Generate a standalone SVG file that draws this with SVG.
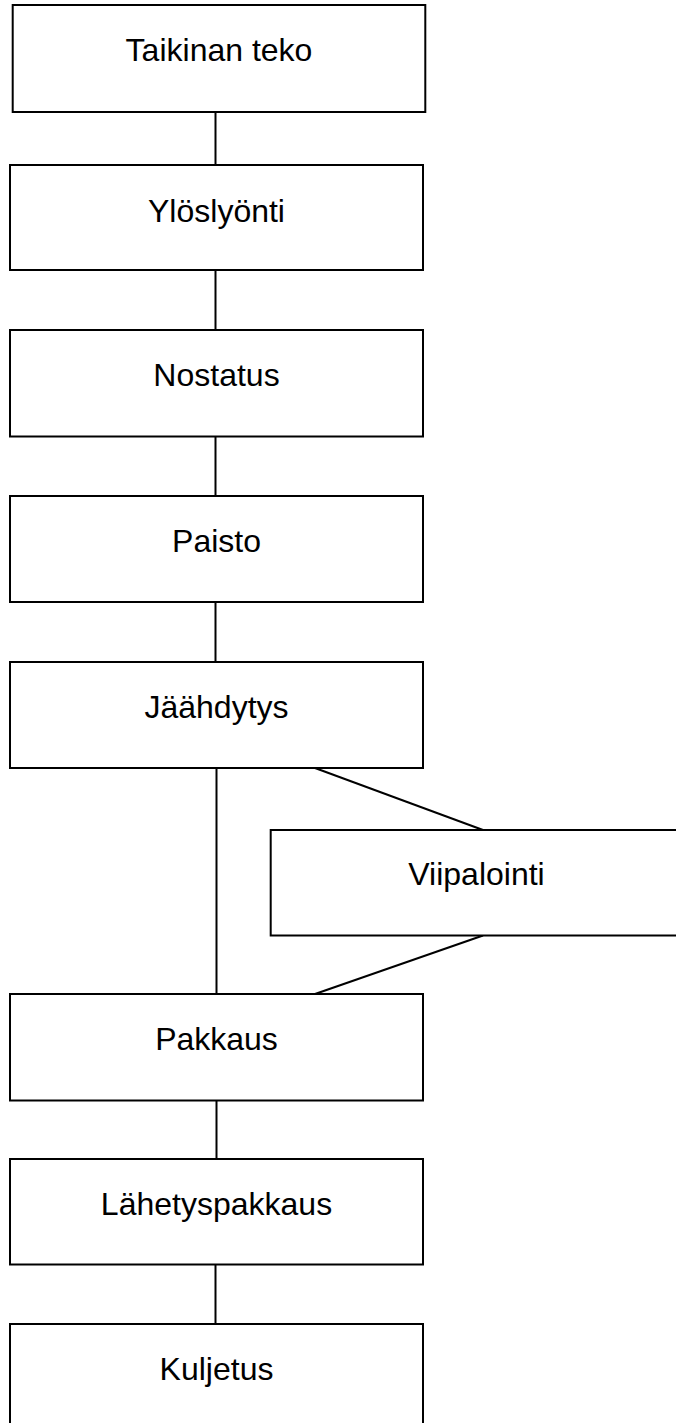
<svg xmlns="http://www.w3.org/2000/svg" width="676" height="1423" viewBox="0 0 676 1423">
<style>
.box{fill:#fff;stroke:#000;stroke-width:2}
.lbl{font-family:"Liberation Sans",Arial,sans-serif;font-size:32px;fill:#000;text-anchor:middle}
.con{stroke:#000;stroke-width:2;fill:none}
</style>
<rect width="676" height="1423" fill="#fff"/>
<g id="connectors">
<line class="con" x1="215.5" y1="112" x2="215.5" y2="165"/>
<line class="con" x1="215.5" y1="270" x2="215.5" y2="330"/>
<line class="con" x1="215.5" y1="436.5" x2="215.5" y2="496"/>
<line class="con" x1="215.5" y1="602" x2="215.5" y2="662"/>
<line class="con" x1="216.5" y1="768" x2="216.5" y2="994"/>
<line class="con" x1="315" y1="768" x2="483" y2="830"/>
<line class="con" x1="483" y1="935.5" x2="315" y2="994"/>
<line class="con" x1="216.5" y1="1100.5" x2="216.5" y2="1159"/>
<line class="con" x1="215.5" y1="1264.5" x2="215.5" y2="1324"/>
</g>
<g id="taikinan-teko"><rect class="box" x="12.7" y="5" width="412.6" height="107"/><text class="lbl" x="219" y="61">Taikinan teko</text></g>
<g id="yloslyonti"><rect class="box" x="10" y="165" width="413" height="105"/><text class="lbl" x="216.5" y="221.5">Ylöslyönti</text></g>
<g id="nostatus"><rect class="box" x="10" y="330" width="413" height="106.5"/><text class="lbl" x="216.5" y="386">Nostatus</text></g>
<g id="paisto"><rect class="box" x="10" y="496" width="413" height="106"/><text class="lbl" x="216.5" y="552">Paisto</text></g>
<g id="jaahdytys"><rect class="box" x="10" y="662" width="413" height="106"/><text class="lbl" x="216.5" y="717.5">Jäähdytys</text></g>
<g id="viipalointi"><rect class="box" x="270.7" y="830" width="413" height="105.5"/><text class="lbl" x="476.5" y="884.5">Viipalointi</text></g>
<g id="pakkaus"><rect class="box" x="10" y="994" width="413" height="106.5"/><text class="lbl" x="216.5" y="1050">Pakkaus</text></g>
<g id="lahetyspakkaus"><rect class="box" x="10" y="1159" width="413" height="105.5"/><text class="lbl" x="216.5" y="1215">Lähetyspakkaus</text></g>
<g id="kuljetus"><rect class="box" x="10" y="1324" width="413" height="106"/><text class="lbl" x="216.5" y="1380">Kuljetus</text></g>
</svg>
